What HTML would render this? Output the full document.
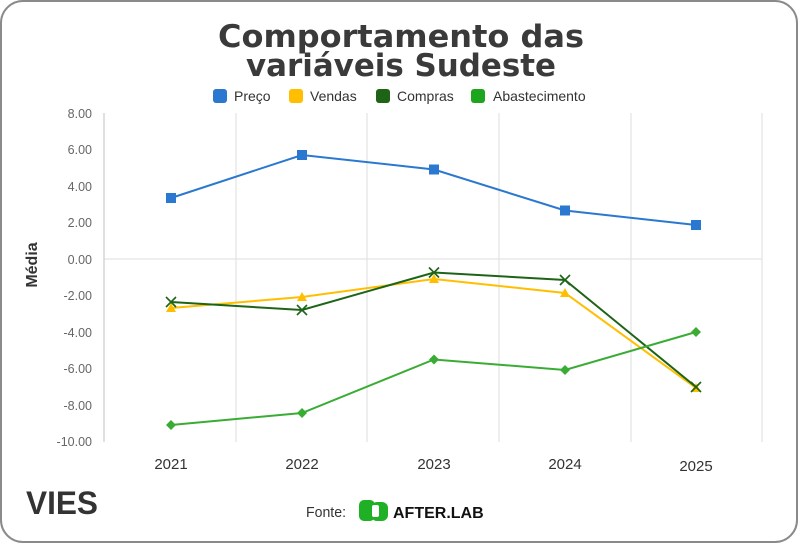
<!DOCTYPE html>
<html><head><meta charset="utf-8"><style>
html,body{margin:0;padding:0;background:#fff;}
svg{display:block;font-family:"Liberation Sans",sans-serif;}
</style></head><body>
<svg width="799" height="544" viewBox="0 0 799 544">
<rect x="1" y="1" width="796" height="541" rx="22" ry="22" fill="#fff" stroke="#8a8a8a" stroke-width="2"/>
<g font-family="'DejaVu Sans',sans-serif" font-size="31" font-weight="bold" fill="#3a3a3a" text-anchor="middle">
<text x="401" y="47" textLength="366" lengthAdjust="spacingAndGlyphs">Comportamento das</text>
<text x="401" y="76" textLength="310" lengthAdjust="spacingAndGlyphs">variáveis Sudeste</text>
</g>
<g font-size="14" fill="#333">
<rect x="213" y="89" width="14" height="14" rx="3" fill="#2a78d0"/><text x="234" y="101">Preço</text>
<rect x="289" y="89" width="14" height="14" rx="3" fill="#ffbf00"/><text x="310" y="101">Vendas</text>
<rect x="376" y="89" width="14" height="14" rx="3" fill="#1e6417"/><text x="397" y="101">Compras</text>
<rect x="471" y="89" width="14" height="14" rx="3" fill="#1ea51e"/><text x="493" y="101">Abastecimento</text>
</g>
<g stroke="#e3e3e3" stroke-width="1.2">
<line x1="236" y1="113" x2="236" y2="442"/><line x1="367" y1="113" x2="367" y2="442"/>
<line x1="499" y1="113" x2="499" y2="442"/><line x1="631" y1="113" x2="631" y2="442"/>
<line x1="762" y1="113" x2="762" y2="442"/>
<line x1="104" y1="259" x2="762" y2="259"/>
</g>
<line x1="104" y1="113" x2="104" y2="442" stroke="#ccc" stroke-width="1.2"/>
<g font-size="12.5" fill="#666" text-anchor="end">
<text x="92" y="118">8.00</text><text x="92" y="154">6.00</text><text x="92" y="191">4.00</text>
<text x="92" y="227">2.00</text><text x="92" y="264">0.00</text><text x="92" y="300">-2.00</text>
<text x="92" y="337">-4.00</text><text x="92" y="373">-6.00</text><text x="92" y="410">-8.00</text>
<text x="92" y="446">-10.00</text>
</g>
<text transform="translate(37,265) rotate(-90)" text-anchor="middle" font-size="16" font-weight="bold" fill="#333">Média</text>
<g font-size="15" fill="#333" text-anchor="middle">
<text x="171" y="469">2021</text><text x="302" y="469">2022</text><text x="434" y="469">2023</text>
<text x="565" y="469">2024</text><text x="696" y="471">2025</text>
</g>
<polyline points="171,198 302,155 434,169.5 565,210.5 696,225" fill="none" stroke="#2a78d0" stroke-width="2"/>
<g fill="#2a78d0"><rect x="166" y="193" width="10" height="10"/><rect x="297" y="150" width="10" height="10"/><rect x="429" y="164.5" width="10" height="10"/><rect x="560" y="205.5" width="10" height="10"/><rect x="691" y="220" width="10" height="10"/></g>
<polyline points="171,308 302,297 434,279 565,293 696,388" fill="none" stroke="#ffbf00" stroke-width="2"/>
<g fill="#ffbf00"><path d="M171,303l5,9h-10z"/><path d="M302,292l5,9h-10z"/><path d="M434,274l5,9h-10z"/><path d="M565,288l5,9h-10z"/><path d="M696,383l5,9h-10z"/></g>
<polyline points="171,302 302,310 434,272.5 565,280 696,387" fill="none" stroke="#1e6417" stroke-width="2"/>
<g stroke="#1e6417" stroke-width="1.6"><path d="M166,297l10,10M176,297l-10,10"/><path d="M297,305l10,10M307,305l-10,10"/><path d="M429,267.5l10,10M439,267.5l-10,10"/><path d="M560,275l10,10M570,275l-10,10"/><path d="M691,382l10,10M701,382l-10,10"/></g>
<polyline points="171,425 302,413 434,359.5 565,370 696,332" fill="none" stroke="#3aac34" stroke-width="2"/>
<g fill="#3aac34"><path d="M171,420l5,5l-5,5l-5,-5z"/><path d="M302,408l5,5l-5,5l-5,-5z"/><path d="M434,354.5l5,5l-5,5l-5,-5z"/><path d="M565,365l5,5l-5,5l-5,-5z"/><path d="M696,327l5,5l-5,5l-5,-5z"/></g>
<text x="26" y="514" font-size="32" font-weight="bold" fill="#333" textLength="72" lengthAdjust="spacingAndGlyphs">VIES</text>
<text x="306" y="517" font-size="15" fill="#333" textLength="40" lengthAdjust="spacingAndGlyphs">Fonte:</text>
<rect x="359" y="500" width="16" height="21" rx="5" fill="#1fb025"/>
<rect x="371" y="502" width="17" height="19" rx="6" fill="#1fb025"/>
<rect x="372" y="505" width="7" height="12" rx="2" fill="#fff"/>
<text x="393" y="518" font-size="16" font-weight="bold" fill="#111">AFTER.LAB</text>
</svg>
</body></html>
